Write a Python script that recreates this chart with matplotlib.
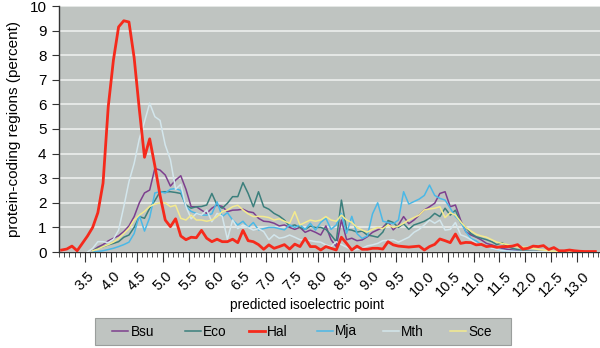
import numpy as np
import matplotlib
matplotlib.use("Agg")
from matplotlib import pyplot as plt
from matplotlib.ticker import MultipleLocator
from matplotlib.patches import Rectangle

plt.rcParams['font.family'] = ['Liberation Sans', 'DejaVu Sans']

# bin centres of predicted pI
pI = np.round(np.arange(3.05, 13.4, 0.1), 2)
na = np.nan

hal = [0.08, 0.12, 0.24, 0.05, 0.35, 0.65, 1.0, 1.6, 2.8, 5.9,
       7.8, 9.15, 9.4, 9.35, 7.9, 5.8, 3.85, 4.6, 3.5, 2.3,
       1.3, 1.03, 1.35, 0.65, 0.5, 0.6, 0.58, 0.88, 0.56, 0.42,
       0.52, 0.42, 0.42, 0.52, 0.38, 0.88, 0.46, 0.42, 0.3, 0.11,
       0.29, 0.15, 0.22, 0.3, 0.12, 0.32, 0.22, 0.56, 0.22, 0.22,
       0.08, 0.22, 0.15, 0.08, 0.6, 0.35, 0.08, 0.24, 0.11, 0.11,
       0.15, 0.15, 0.12, 0.42, 0.29, 0.24, 0.22, 0.2, 0.22, 0.24,
       0.08, 0.22, 0.31, 0.53, 0.46, 0.38, 0.73, 0.35, 0.39, 0.38,
       0.29, 0.31, 0.22, 0.24, 0.19, 0.22, 0.22, 0.24, 0.3, 0.12,
       0.15, 0.24, 0.22, 0.26, 0.1, 0.18, 0.05, 0.05, 0.08, 0.05,
       0.03, 0.02, 0.02, 0.02]

mth = [na, na, na, na, na, 0.0, 0.15, 0.42, 0.42, 0.38,
       0.52, 0.89, 1.84, 2.86, 3.6, 4.6, 5.3, 6.05, 5.5, 5.35,
       4.35, 3.75, 2.55, 2.75, 1.85, 1.35, 1.57, 1.5, 1.71, 1.23,
       1.57, 1.45, 0.52, 1.3, 0.95, 1.1, 1.0, 0.89, 0.95, 0.83,
       0.5, 0.7, 0.56, 0.6, 0.69, 0.6, 0.5, 0.48, 0.46, 0.42,
       0.4, 0.29, 0.22, 0.42, 0.3, 0.2, 0.08, 0.1, 0.15, 0.25,
       0.29, 0.35, 0.46, 0.48, 0.5, 0.4, 0.5, 0.6, 0.8, 0.92,
       1.1, 1.3, 1.17, 1.3, 0.89, 0.92, 1.2, 0.7, 0.62, 0.5,
       0.35, 0.3, 0.22, 0.15, 0.1, 0.06, 0.04, 0.03, 0.02, 0.02,
       0.02, 0.02, 0.01, 0.01, 0.01, 0.01, 0.0, 0.0, 0.0, 0.0,
       0.0, 0.0, 0.0, 0.0]

bsu = [na, na, na, na, na, na, 0.05, 0.2, 0.3, 0.45,
       0.56, 0.66, 0.83, 1.06, 1.44, 2.0, 2.4, 2.52, 3.4, 3.33,
       3.13, 2.68, 2.92, 3.1, 2.55, 1.84, 1.84, 1.7, 1.57, 1.78,
       1.91, 1.85, 1.64, 1.7, 1.71, 1.74, 1.64, 1.6, 1.37, 1.25,
       1.23, 1.17, 1.06, 1.1, 1.0, 0.92, 1.0, 0.8, 0.89, 0.8,
       0.69, 1.06, 0.5, 0.22, 1.3, 0.5, 0.56, 0.46, 0.49, 0.62,
       0.8, 0.9, 1.0, 1.23, 0.9, 1.1, 1.44, 1.15, 1.3, 1.5,
       1.71, 1.84, 1.98, 2.38, 2.45, 1.84, 1.91, 1.3, 0.83, 0.69,
       0.6, 0.49, 0.35, 0.29, 0.22, 0.15, 0.11, 0.08, 0.05, 0.04,
       0.03, 0.02, 0.02, 0.01, 0.01, 0.0, 0.0, 0.0, 0.0, 0.0,
       0.0, 0.0, 0.0, 0.0]

eco = [na, na, na, na, na, na, 0.05, 0.15, 0.22, 0.29,
       0.35, 0.42, 0.6, 0.69, 1.0, 1.44, 1.37, 1.78, 2.09, 2.45,
       2.45, 2.45, 2.42, 2.38, 1.91, 1.78, 1.84, 1.85, 1.91, 2.38,
       1.91, 1.78, 1.98, 2.25, 2.25, 2.82, 2.38, 1.84, 2.45, 1.84,
       1.74, 1.57, 1.46, 1.3, 1.05, 1.1, 1.0, 0.92, 1.05, 1.0,
       1.0, 0.92, 0.69, 0.42, 2.11, 0.92, 0.89, 0.81, 0.85, 0.69,
       0.65, 0.6, 0.81, 1.28, 1.2, 1.0, 1.15, 0.92, 1.1, 1.17,
       1.25, 1.37, 1.57, 1.44, 1.78, 1.5, 1.7, 1.2, 1.0, 0.75,
       0.62, 0.56, 0.5, 0.42, 0.3, 0.38, 0.22, 0.15, 0.1, 0.06,
       0.04, 0.03, 0.02, 0.02, 0.01, 0.0, 0.0, 0.0, 0.0, 0.0,
       0.0, 0.0, 0.0, 0.0]

mja = [na, na, na, na, na, na, 0.0, 0.02, 0.05, 0.1,
       0.15, 0.22, 0.3, 0.4, 0.75, 1.5, 0.85, 1.4, 2.4, 2.45,
       2.4, 2.55, 2.58, 2.5, 1.84, 1.65, 1.57, 1.5, 1.5, 1.55,
       2.04, 1.44, 1.6, 1.3, 1.1, 1.25, 1.0, 1.2, 0.9, 0.95,
       1.0, 1.0, 0.95, 0.9, 1.1, 1.0, 1.1, 0.92, 1.17, 0.89,
       1.2, 1.37, 0.92, 1.1, 1.57, 0.76, 1.45, 0.75, 0.55, 0.65,
       1.55, 2.0, 1.25, 1.2, 1.15, 1.3, 2.45, 1.95, 2.05, 2.15,
       2.3, 2.72, 2.3, 2.18, 2.11, 1.78, 1.44, 1.23, 0.83, 0.55,
       0.45, 0.3, 0.22, 0.15, 0.1, 0.06, 0.04, 0.03, 0.02, 0.01,
       0.01, 0.0, 0.0, 0.0, 0.0, 0.0, 0.0, 0.0, 0.0, 0.0,
       0.0, 0.0, 0.0, 0.0]

sce = [na, na, na, na, na, na, 0.05, 0.12, 0.22, 0.3,
       0.4, 0.55, 0.75, 0.96, 1.3, 1.5, 1.65, 1.85, 1.95, 2.0,
       2.0, 1.84, 1.9, 1.37, 1.3, 1.5, 1.3, 1.3, 1.25, 1.3,
       1.44, 1.64, 1.71, 1.84, 1.9, 1.71, 1.55, 1.44, 1.45, 1.44,
       1.4, 1.3, 1.35, 1.25, 1.17, 1.64, 1.1, 1.2, 1.3, 1.25,
       1.3, 1.44, 1.3, 1.25, 1.5, 1.3, 1.2, 1.0, 0.89, 0.81,
       0.92, 1.0, 0.95, 1.1, 1.0, 1.05, 1.17, 1.3, 1.4, 1.5,
       1.71, 1.75, 1.78, 1.84, 1.4, 1.6, 1.5, 1.23, 1.0, 0.85,
       0.72, 0.65, 0.6, 0.5, 0.4, 0.35, 0.3, 0.25, 0.2, 0.2,
       0.18, 0.15, 0.1, 0.08, 0.05, 0.03, 0.02, 0.01, 0.0, 0.0,
       0.0, 0.0, 0.0, 0.0]

names = ["Bsu", "Eco", "Hal", "Mja", "Mth", "Sce"]
series = [bsu, eco, hal, mja, mth, sce]
colors = ["#7d3f8e", "#3b7f7c", "#f52a1c", "#4bb8e6", "#d3e6ec", "#f4ea8e"]
widths = [1.1, 1.1, 2.0, 1.1, 1.1, 1.1]
zorders = [3, 3, 5, 3, 3, 4]
xticks = [3.5, 4.0, 4.5, 5.0, 5.5, 6.0, 6.5, 7.0, 7.5, 8.0, 8.5, 9.0, 9.5,
          10.0, 10.5, 11.0, 11.5, 12.0, 12.5, 13.0]

bg = "#bfc4c1"
W, H = 600, 348
fig = plt.figure(figsize=(6.0, 3.48), dpi=100)
ax = fig.add_axes([59/W, 96/H, 541/W, 246/H])
ax.set_facecolor(bg)

handles = []
for name, y, c, w, z in zip(names, series, colors, widths, zorders):
    h, = ax.plot(pI, y, color=c, lw=w, zorder=z, label=name)
    handles.append(h)

ax.set_xlim(3.0, 13.44)
ax.set_ylim(0, 10)
ax.set_yticks(range(0, 11))
ax.set_xticks(xticks)
ax.set_xticklabels(["%.1f" % t for t in xticks], rotation=45, ha="center",
                   va="top", fontsize=10.5)
ax.xaxis.set_minor_locator(MultipleLocator(0.1))
ax.tick_params(axis="y", labelsize=11, length=5, color="#333333", pad=4)
ax.tick_params(axis="x", which="major", length=7, color="#333333", pad=5)
ax.tick_params(axis="x", which="minor", length=3.5, color="#333333")
ax.yaxis.grid(True, color="#e6e9e7", lw=1.4, zorder=1)
ax.set_axisbelow(True)
for s in ["top", "right"]:
    ax.spines[s].set_visible(False)
for s in ["left", "bottom"]:
    ax.spines[s].set_color("#333333")
    ax.spines[s].set_linewidth(1.0)

ax.set_ylabel("protein-coding regions (percent)", fontsize=11, labelpad=6)
fig.text(307/W, 1 - 305/H, "predicted isoelectric point", fontsize=9.8,
         ha="center", va="center")

# legend box drawn by hand, one small legend per entry
fig.add_artist(Rectangle((95/W, 1 - 345/H), 416/W, 27/H,
                         transform=fig.transFigure, facecolor=bg,
                         edgecolor="#9a9e9c", lw=0.8, zorder=1))
leg_x = [112, 185, 249, 317, 383, 450]
for h, name, lx in zip(handles, names, leg_x):
    fig.legend(handles=[h], labels=[name], loc="center left",
               bbox_to_anchor=(lx/W, 1 - 331.5/H), frameon=False,
               fontsize=9.8, handlelength=1.2, handletextpad=0.15,
               borderpad=0, borderaxespad=0)

fig.savefig("out.png", dpi=100)
